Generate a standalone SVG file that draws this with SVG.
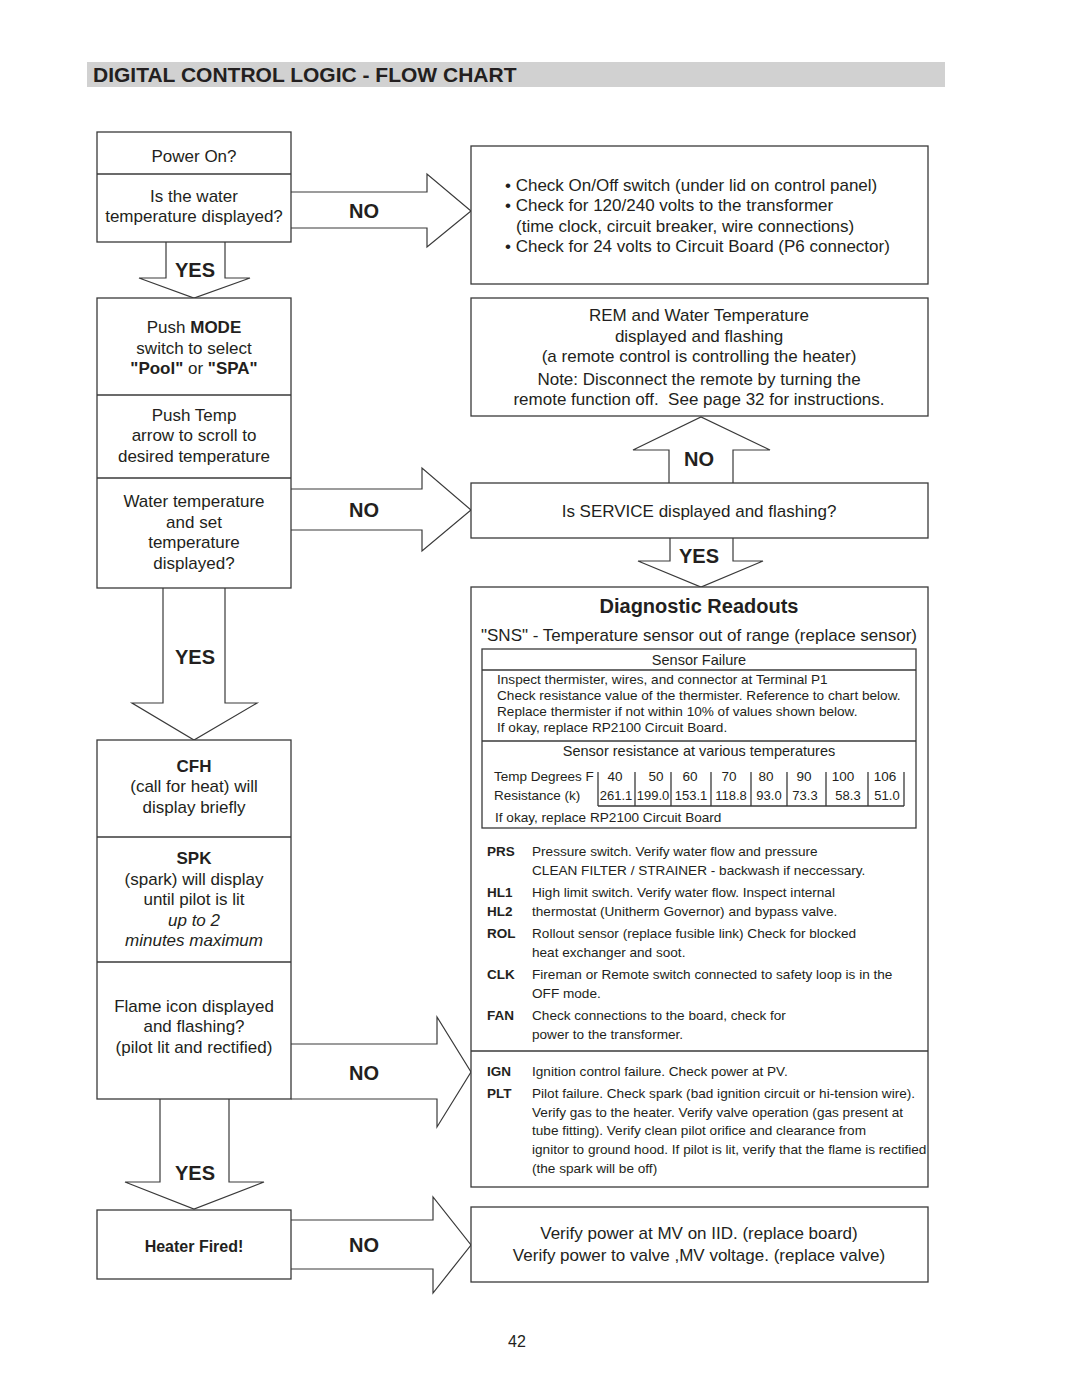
<svg xmlns="http://www.w3.org/2000/svg" width="1080" height="1397" viewBox="0 0 1080 1397">
<style>
text{font-family:"Liberation Sans",Arial,sans-serif;fill:#231f20}
.t{font-size:17px}
.c{text-anchor:middle}
.b{font-weight:bold}
.lbl{font-size:20px;font-weight:bold;text-anchor:middle}
.box{fill:#fff;stroke:#3a3a3a;stroke-width:1.3}
.ln{stroke:#3a3a3a;stroke-width:1.3;fill:none}
.arr{fill:#fff;stroke:#3a3a3a;stroke-width:1.2;stroke-linejoin:miter}
.s13{font-size:13.6px}
.s135{font-size:13.6px}
.code{font-size:13.5px;font-weight:bold}
</style>
<rect width="1080" height="1397" fill="#fff"/>
<g id="title">
<rect x="87" y="62" width="858" height="25" fill="#d1d1d1"/>
<text x="93" y="82" style="font-size:21px;font-weight:bold">DIGITAL CONTROL LOGIC - FLOW CHART</text>
</g>
<g id="connectors">
<path class="arr" d="M291,192 H427 V174 L471,211 L427,247 V228 H291"/>
<text class="lbl" x="364" y="218">NO</text>
<path class="arr" d="M166,242 V278 H139 L194,298 L250,278 H225 V242"/>
<text class="lbl" x="195" y="277">YES</text>
<path class="arr" d="M291,489 H422 V468 L471,510 L422,551 V530 H291"/>
<text class="lbl" x="364" y="517">NO</text>
<path class="arr" d="M669,483 V450 H633 L701,417 L770,450 H733 V483"/>
<text class="lbl" x="699" y="466">NO</text>
<path class="arr" d="M670,538 V561 H638 L701,587 L763,561 H733 V538"/>
<text class="lbl" x="699" y="563">YES</text>
<path class="arr" d="M163,588 V703 H132 L194,740 L257,703 H225 V588"/>
<text class="lbl" x="195" y="664">YES</text>
<path class="arr" d="M291,1044 H437 V1017 L471,1072 L437,1127 V1099 H291"/>
<text class="lbl" x="364" y="1080">NO</text>
<path class="arr" d="M160,1099 V1182 H125 L194,1209 L264,1182 H229 V1099"/>
<text class="lbl" x="195" y="1180">YES</text>
<path class="arr" d="M291,1220 H433 V1197 L471,1245 L433,1293 V1269 H291"/>
<text class="lbl" x="364" y="1252">NO</text>
</g>
<g id="n-power">
<rect class="box" x="97" y="132" width="194" height="110"/>
<line class="ln" x1="97" y1="174" x2="291" y2="174"/>
<text class="t c" x="194" y="162">Power On?</text>
<text class="t c" x="194" y="202">Is the water</text>
<text class="t c" x="194" y="222">temperature displayed?</text>
</g>
<g id="n-mode">
<rect class="box" x="97" y="298" width="194" height="290"/>
<line class="ln" x1="97" y1="395" x2="291" y2="395"/>
<line class="ln" x1="97" y1="478" x2="291" y2="478"/>
<text class="t c" x="194" y="333">Push <tspan class="b">MODE</tspan></text>
<text class="t c" x="194" y="354">switch to select</text>
<text class="t c" x="194" y="374"><tspan class="b">"Pool"</tspan> or <tspan class="b">"SPA"</tspan></text>
<text class="t c" x="194" y="421">Push Temp</text>
<text class="t c" x="194" y="441">arrow to scroll to</text>
<text class="t c" x="194" y="462">desired temperature</text>
<text class="t c" x="194" y="507">Water temperature</text>
<text class="t c" x="194" y="528">and set</text>
<text class="t c" x="194" y="548">temperature</text>
<text class="t c" x="194" y="569">displayed?</text>
</g>
<g id="n-cfh">
<rect class="box" x="97" y="740" width="194" height="359"/>
<line class="ln" x1="97" y1="837" x2="291" y2="837"/>
<line class="ln" x1="97" y1="962" x2="291" y2="962"/>
<text class="t c b" x="194" y="772">CFH</text>
<text class="t c" x="194" y="792">(call for heat) will</text>
<text class="t c" x="194" y="813">display briefly</text>
<text class="t c b" x="194" y="864">SPK</text>
<text class="t c" x="194" y="885">(spark) will display</text>
<text class="t c" x="194" y="905">until pilot is lit</text>
<text class="t c" x="194" y="926" font-style="italic">up to 2</text>
<text class="t c" x="194" y="946" font-style="italic">minutes maximum</text>
<text class="t c" x="194" y="1012">Flame icon displayed</text>
<text class="t c" x="194" y="1032">and flashing?</text>
<text class="t c" x="194" y="1053">(pilot lit and rectified)</text>
</g>
<g id="n-fired">
<rect class="box" x="97" y="1210" width="194" height="69"/>
<text class="c b" x="194" y="1252" style="font-size:16px">Heater Fired!</text>
</g>
<g id="n-check">
<rect class="box" x="471" y="146" width="457" height="138"/>
<text class="t" x="505" y="191">• Check On/Off switch (under lid on control panel)</text>
<text class="t" x="505" y="211">• Check for 120/240 volts to the transformer</text>
<text class="t" x="516" y="232">(time clock, circuit breaker, wire connections)</text>
<text class="t" x="505" y="252">• Check for 24 volts to Circuit Board (P6 connector)</text>
</g>
<g id="n-rem">
<rect class="box" x="471" y="298" width="457" height="118"/>
<text class="t c" x="699" y="321">REM and Water Temperature</text>
<text class="t c" x="699" y="342">displayed and flashing</text>
<text class="t c" x="699" y="362">(a remote control is controlling the heater)</text>
<text class="t c" x="699" y="385">Note: Disconnect the remote by turning the</text>
<text class="t c" x="699" y="405">remote function off.&#160; See page 32 for instructions.</text>
</g>
<g id="n-service">
<rect class="box" x="471" y="483" width="457" height="55"/>
<text class="t c" x="699" y="517">Is SERVICE displayed and flashing?</text>
</g>
<g id="n-diag">
<rect class="box" x="471" y="587" width="457" height="600"/>
<text class="c b" x="699" y="613" style="font-size:20px">Diagnostic Readouts</text>
<text class="t c" x="699" y="641">"SNS" - Temperature sensor out of range (replace sensor)</text>
<rect class="box" x="482" y="649" width="434" height="179"/>
<line class="ln" x1="482" y1="670" x2="916" y2="670"/>
<line class="ln" x1="482" y1="741" x2="916" y2="741"/>
<text class="c" x="699" y="665" style="font-size:14.5px">Sensor Failure</text>
<text class="s13" x="497" y="684">Inspect thermister, wires, and connector at Terminal P1</text>
<text class="s13" x="497" y="700">Check resistance value of the thermister. Reference to chart below.</text>
<text class="s13" x="497" y="716">Replace thermister if not within 10% of values shown below.</text>
<text class="s13" x="497" y="732">If okay, replace RP2100 Circuit Board.</text>
<text class="c" x="699" y="756" style="font-size:14.5px">Sensor resistance at various temperatures</text>
<g class="ln">
<line x1="598" y1="772" x2="598" y2="806"/>
<line x1="635" y1="772" x2="635" y2="806"/>
<line x1="671" y1="772" x2="671" y2="806"/>
<line x1="711" y1="772" x2="711" y2="806"/>
<line x1="751" y1="772" x2="751" y2="806"/>
<line x1="787" y1="772" x2="787" y2="806"/>
<line x1="826" y1="772" x2="826" y2="806"/>
<line x1="868" y1="772" x2="868" y2="806"/>
<line x1="904" y1="772" x2="904" y2="806"/>
<line x1="598" y1="806" x2="904" y2="806"/>
</g>
<g style="font-size:13.5px">
<text x="494" y="781">Temp Degrees F</text>
<text x="615" y="781" text-anchor="middle">40</text>
<text x="656" y="781" text-anchor="middle">50</text>
<text x="690" y="781" text-anchor="middle">60</text>
<text x="729" y="781" text-anchor="middle">70</text>
<text x="766" y="781" text-anchor="middle">80</text>
<text x="804" y="781" text-anchor="middle">90</text>
<text x="843" y="781" text-anchor="middle">100</text>
<text x="885" y="781" text-anchor="middle">106</text>
<text x="494" y="800">Resistance (k)</text>
</g>
<g style="font-size:13px">
<text x="616" y="800" text-anchor="middle">261.1</text>
<text x="653" y="800" text-anchor="middle">199.0</text>
<text x="691" y="800" text-anchor="middle">153.1</text>
<text x="731" y="800" text-anchor="middle">118.8</text>
<text x="769" y="800" text-anchor="middle">93.0</text>
<text x="805" y="800" text-anchor="middle">73.3</text>
<text x="848" y="800" text-anchor="middle">58.3</text>
<text x="887" y="800" text-anchor="middle">51.0</text>
</g>
<text class="s13" x="495" y="822">If okay, replace RP2100 Circuit Board</text>
<text class="code" x="487" y="856">PRS</text>
<text class="s135" x="532" y="856">Pressure switch. Verify water flow and pressure</text>
<text class="s135" x="532" y="875">CLEAN FILTER / STRAINER - backwash if neccessary.</text>
<text class="code" x="487" y="897">HL1</text>
<text class="s135" x="532" y="897">High limit switch. Verify water flow. Inspect internal</text>
<text class="code" x="487" y="916">HL2</text>
<text class="s135" x="532" y="916">thermostat (Unitherm Governor) and bypass valve.</text>
<text class="code" x="487" y="938">ROL</text>
<text class="s135" x="532" y="938">Rollout sensor (replace fusible link) Check for blocked</text>
<text class="s135" x="532" y="957">heat exchanger and soot.</text>
<text class="code" x="487" y="979">CLK</text>
<text class="s135" x="532" y="979">Fireman or Remote switch connected to safety loop is in the</text>
<text class="s135" x="532" y="998">OFF mode.</text>
<text class="code" x="487" y="1020">FAN</text>
<text class="s135" x="532" y="1020">Check connections to the board, check for</text>
<text class="s135" x="532" y="1039">power to the transformer.</text>
<line class="ln" x1="471" y1="1051" x2="928" y2="1051"/>
<text class="code" x="487" y="1076">IGN</text>
<text class="s135" x="532" y="1076">Ignition control failure. Check power at PV.</text>
<text class="code" x="487" y="1098">PLT</text>
<text class="s135" x="532" y="1098">Pilot failure. Check spark (bad ignition circuit or hi-tension wire).</text>
<text class="s135" x="532" y="1117">Verify gas to the heater. Verify valve operation (gas present at</text>
<text class="s135" x="532" y="1135">tube fitting). Verify clean pilot orifice and clearance from</text>
<text class="s135" x="532" y="1154">ignitor to ground hood. If pilot is lit, verify that the flame is rectified</text>
<text class="s135" x="532" y="1173">(the spark will be off)</text>
</g>
<g id="n-verify">
<rect class="box" x="471" y="1207" width="457" height="75"/>
<text class="t c" x="699" y="1239">Verify power at MV on IID. (replace board)</text>
<text class="t c" x="699" y="1261">Verify power to valve ,MV voltage. (replace valve)</text>
</g>
<text x="517" y="1347" class="c" style="font-size:16px">42</text>
</svg>
